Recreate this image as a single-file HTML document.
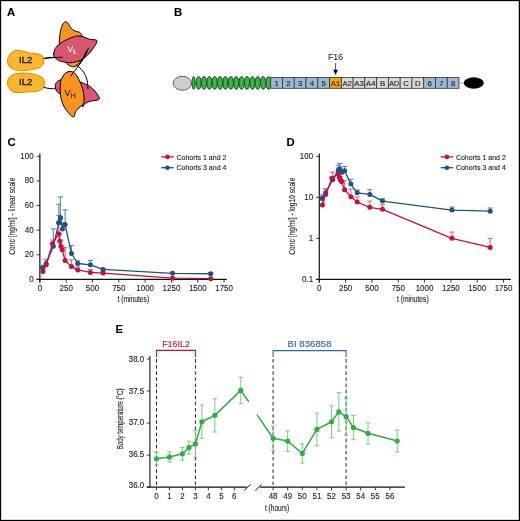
<!DOCTYPE html>
<html><head><meta charset="utf-8"><style>
html,body{margin:0;padding:0;background:#fff;width:520px;height:521px;overflow:hidden;}
svg{display:block;font-family:"Liberation Sans",sans-serif;will-change:transform;}
</style></head><body>
<svg width="520" height="521" viewBox="0 0 520 521">
<rect x="0" y="0" width="520" height="1.15" fill="#000"/>
<rect x="0" y="0" width="1.15" height="521" fill="#000"/>
<rect x="518.75" y="0" width="1.25" height="521" fill="#000"/>
<rect x="0" y="519.85" width="520" height="1.15" fill="#000"/>
<text x="7.1" y="15.6" font-family="Liberation Sans, sans-serif" font-weight="bold" font-size="11.3" fill="#000" stroke="#000" stroke-width="0.12">A</text>
<text x="174.1" y="15.6" font-family="Liberation Sans, sans-serif" font-weight="bold" font-size="11.3" fill="#000" stroke="#000" stroke-width="0.12">B</text>
<text x="7.5" y="146.4" font-family="Liberation Sans, sans-serif" font-weight="bold" font-size="11.3" fill="#000" stroke="#000" stroke-width="0.12">C</text>
<text x="286.6" y="146.3" font-family="Liberation Sans, sans-serif" font-weight="bold" font-size="11.3" fill="#000" stroke="#000" stroke-width="0.12">D</text>
<text x="115.6" y="333.3" font-family="Liberation Sans, sans-serif" font-weight="bold" font-size="11.3" fill="#000" stroke="#000" stroke-width="0.12">E</text>
<g stroke="#000" stroke-width="1" stroke-linejoin="round" stroke-linecap="round">
<path d="M7.4,60.8 C7.6,56.5 11,51.5 16,50.4 C20,49.6 24,51.5 28.5,52.8 C33,54 38.5,53.4 41.8,55.6 C44.6,57.6 44.4,62 42.4,65.3 C40,68.8 34,69.6 28,70.2 C21,70.9 14,70.6 10.6,67.6 C8.6,65.8 7.3,63.2 7.4,60.8 Z" fill="#f9b82e" stroke="#f08d00" stroke-width="1.1"/>
<path d="M7.4,82 C7.8,78.5 11,75 16,73.8 C21,72.8 27,73 32,73.8 C37,74.6 41.5,75.8 43.6,79.2 C45.4,82.2 44.8,87 41.8,89.4 C38.4,92 32.5,91.6 26.5,92 C20.5,92.5 15.5,93.5 12,91 C9.4,89 7.2,85.5 7.4,82 Z" fill="#f9b82e" stroke="#f08d00" stroke-width="1.1"/>
<path d="M44,58.4 C48,57.4 52,57.2 57,57.4" fill="none"/>
<path d="M44,87.3 C48,88.8 52,88.9 57,88.6" fill="none"/>
<path d="M61,79.8 C58.5,80.2 56.3,81.8 55.4,84.5 C54.8,87.5 55.8,90.5 58,92.6 C59,93.4 60,93.8 61,94 Z" fill="#d9566e"/>
<path d="M79.4,81.9 C82,82.6 84.5,83.6 86.9,84.8 C89,86 91,87.3 92.6,88.8 C94.2,90.3 95.6,91.8 96.7,93.4 C97.8,95 99,96.8 99.5,98.4 C99.6,99.3 98.8,99.9 96.1,100.3 C93.8,100.6 91.5,100.8 89.2,101.5 C87.5,102.1 86,103 84.6,104.4 C83.8,105.2 83.2,106 82.8,106.7 Z" fill="#d9566e"/>
<path d="M69,71.5 C66.5,72 64.8,73.3 63.8,75 C61.8,77.8 60.6,80 60.4,83 C60,87 60,91 60.4,94.6 C61,99 62,102.8 63.8,106.1 C65.5,109.3 67.6,112 69.6,114.1 C71,115.5 72.5,117 73.6,117 C74.4,116.8 74.5,115.5 74.8,114.1 C75.3,112 76,110.8 77.1,109.5 C78.3,108.2 79.8,107.2 81.1,106.1 C82.8,104.7 83.9,103.3 84,101.5 C84.2,98.5 84,95.5 83.4,92.3 C82.7,88.6 81.6,85 80,81.9 C78.5,78.5 76.8,75.2 74.8,73.2 C73,71.6 71,71.2 69,71.5 Z" fill="#f7941d"/>
<path d="M59.3,44.6 C59.3,38 60.2,30 62,26 C63,23.5 64.5,21.6 65.8,21.7 C67.3,21.8 68.6,24 70,26.5 C71.5,29 73.5,30.7 76,31.3 C78.5,31.8 80.5,32.2 81.5,34.6 L83,40 L82,58 C80.8,61 79,64.5 75,66.5 C72,67.8 68,65 66.2,63 Z" fill="#f7941d"/>
<path d="M53.6,54 C54,50 56,46.5 58.8,44.6 C61,42.8 63.5,41 66.2,39.9 C69,38.6 72.5,37 75.7,36.2 C78.5,35.6 81,36.2 83.1,36.7 C85.5,37.4 87.5,38.8 89.4,39.3 C91.5,39.8 94.5,39.5 96.2,40 C97.4,40.5 97.3,41.5 96.5,43 C95.5,45 93,48.5 90.5,52 C88.5,54.5 86.5,56 85.2,57.3 C82.5,59.3 80,60.8 76.7,61.6 C74,62.4 71,62.9 68.3,62.6 C65,62.3 61.5,61.8 58.8,60.5 C56,59 53.4,57 53.6,54 Z" fill="#d9566e"/>
<path d="M45,58.4 C52,57.6 58,57.3 62.5,57.3" fill="none"/>
<path d="M70.9,75.9 C74,71.5 78,66.5 81,62.5 C84,58.5 86.5,53.5 88.4,48.3" fill="none"/>
<path d="M76.5,65 C80,67.5 83.5,71 85.5,75.5 C87.5,80 88,84.5 87.9,88.6" fill="none"/>
<path d="M86.8,50.5 C84.5,56 81.5,61 79,65" fill="none"/>
</g>
<text x="19.0" y="63.0" font-family="Liberation Sans, sans-serif" font-size="9.6" fill="#111" stroke="#111" stroke-width="0.3">IL2</text>
<text x="19.0" y="84.7" font-family="Liberation Sans, sans-serif" font-size="9.6" fill="#111" stroke="#111" stroke-width="0.3">IL2</text>
<text x="67.3" y="51.6" font-family="Liberation Sans, sans-serif" font-size="9" fill="#fff" stroke="#fff" stroke-width="0.12">V<tspan font-size="6.5" dy="2">L</tspan></text>
<text x="64.6" y="95.7" font-family="Liberation Sans, sans-serif" font-size="9.2" fill="#222" stroke="#222" stroke-width="0.12">V<tspan font-size="6.8" dy="2.3">H</tspan></text>
<ellipse cx="182.3" cy="83.3" rx="9.1" ry="7" fill="#cdcdcd" stroke="#444" stroke-width="0.8"/>
<ellipse cx="193.6" cy="82.9" rx="1.6" ry="6.4" fill="#3bb54a" stroke="#0a2a0e" stroke-width="0.8"/>
<ellipse cx="198.60" cy="82.9" rx="2.6" ry="6.4" fill="#3bb54a" stroke="#0a2a0e" stroke-width="0.8"/>
<ellipse cx="203.98" cy="82.9" rx="2.6" ry="6.4" fill="#3bb54a" stroke="#0a2a0e" stroke-width="0.8"/>
<ellipse cx="209.36" cy="82.9" rx="2.6" ry="6.4" fill="#3bb54a" stroke="#0a2a0e" stroke-width="0.8"/>
<ellipse cx="214.74" cy="82.9" rx="2.6" ry="6.4" fill="#3bb54a" stroke="#0a2a0e" stroke-width="0.8"/>
<ellipse cx="220.12" cy="82.9" rx="2.6" ry="6.4" fill="#3bb54a" stroke="#0a2a0e" stroke-width="0.8"/>
<ellipse cx="225.50" cy="82.9" rx="2.6" ry="6.4" fill="#3bb54a" stroke="#0a2a0e" stroke-width="0.8"/>
<ellipse cx="230.88" cy="82.9" rx="2.6" ry="6.4" fill="#3bb54a" stroke="#0a2a0e" stroke-width="0.8"/>
<ellipse cx="236.26" cy="82.9" rx="2.6" ry="6.4" fill="#3bb54a" stroke="#0a2a0e" stroke-width="0.8"/>
<ellipse cx="241.64" cy="82.9" rx="2.6" ry="6.4" fill="#3bb54a" stroke="#0a2a0e" stroke-width="0.8"/>
<ellipse cx="247.02" cy="82.9" rx="2.6" ry="6.4" fill="#3bb54a" stroke="#0a2a0e" stroke-width="0.8"/>
<ellipse cx="252.40" cy="82.9" rx="2.6" ry="6.4" fill="#3bb54a" stroke="#0a2a0e" stroke-width="0.8"/>
<ellipse cx="257.78" cy="82.9" rx="2.6" ry="6.4" fill="#3bb54a" stroke="#0a2a0e" stroke-width="0.8"/>
<ellipse cx="263.16" cy="82.9" rx="2.6" ry="6.4" fill="#3bb54a" stroke="#0a2a0e" stroke-width="0.8"/>
<ellipse cx="268.54" cy="82.9" rx="2.6" ry="6.4" fill="#3bb54a" stroke="#0a2a0e" stroke-width="0.8"/>
<rect x="270.70" y="77.4" width="11.77" height="10.9" fill="#9cb8d3" stroke="#333" stroke-width="0.8"/>
<text x="276.58" y="85.8" text-anchor="middle" font-family="Liberation Sans, sans-serif" font-size="7.8" fill="#1a1a1a" stroke="#1a1a1a" stroke-width="0.12">1</text>
<rect x="282.47" y="77.4" width="11.77" height="10.9" fill="#9cb8d3" stroke="#333" stroke-width="0.8"/>
<text x="288.35" y="85.8" text-anchor="middle" font-family="Liberation Sans, sans-serif" font-size="7.8" fill="#1a1a1a" stroke="#1a1a1a" stroke-width="0.12">2</text>
<rect x="294.24" y="77.4" width="11.77" height="10.9" fill="#9cb8d3" stroke="#333" stroke-width="0.8"/>
<text x="300.12" y="85.8" text-anchor="middle" font-family="Liberation Sans, sans-serif" font-size="7.8" fill="#1a1a1a" stroke="#1a1a1a" stroke-width="0.12">3</text>
<rect x="306.01" y="77.4" width="11.77" height="10.9" fill="#9cb8d3" stroke="#333" stroke-width="0.8"/>
<text x="311.89" y="85.8" text-anchor="middle" font-family="Liberation Sans, sans-serif" font-size="7.8" fill="#1a1a1a" stroke="#1a1a1a" stroke-width="0.12">4</text>
<rect x="317.77" y="77.4" width="11.77" height="10.9" fill="#9cb8d3" stroke="#333" stroke-width="0.8"/>
<text x="323.66" y="85.8" text-anchor="middle" font-family="Liberation Sans, sans-serif" font-size="7.8" fill="#1a1a1a" stroke="#1a1a1a" stroke-width="0.12">5</text>
<rect x="329.54" y="77.4" width="11.77" height="10.9" fill="#f5ab00" stroke="#333" stroke-width="0.8"/>
<text x="335.43" y="85.8" text-anchor="middle" font-family="Liberation Sans, sans-serif" font-size="7.8" fill="#1a1a1a" stroke="#1a1a1a" stroke-width="0.12">A1</text>
<rect x="341.31" y="77.4" width="11.77" height="10.9" fill="#d9d9d9" stroke="#333" stroke-width="0.8"/>
<text x="347.20" y="85.8" text-anchor="middle" font-family="Liberation Sans, sans-serif" font-size="7.8" fill="#1a1a1a" stroke="#1a1a1a" stroke-width="0.12">A2</text>
<rect x="353.08" y="77.4" width="11.77" height="10.9" fill="#d9d9d9" stroke="#333" stroke-width="0.8"/>
<text x="358.97" y="85.8" text-anchor="middle" font-family="Liberation Sans, sans-serif" font-size="7.8" fill="#1a1a1a" stroke="#1a1a1a" stroke-width="0.12">A3</text>
<rect x="364.85" y="77.4" width="11.77" height="10.9" fill="#d9d9d9" stroke="#333" stroke-width="0.8"/>
<text x="370.73" y="85.8" text-anchor="middle" font-family="Liberation Sans, sans-serif" font-size="7.8" fill="#1a1a1a" stroke="#1a1a1a" stroke-width="0.12">A4</text>
<rect x="376.62" y="77.4" width="11.77" height="10.9" fill="#d9d9d9" stroke="#333" stroke-width="0.8"/>
<text x="382.50" y="85.8" text-anchor="middle" font-family="Liberation Sans, sans-serif" font-size="7.8" fill="#1a1a1a" stroke="#1a1a1a" stroke-width="0.12">B</text>
<rect x="388.39" y="77.4" width="11.77" height="10.9" fill="#d9d9d9" stroke="#333" stroke-width="0.8"/>
<text x="394.27" y="85.8" text-anchor="middle" font-family="Liberation Sans, sans-serif" font-size="7.8" textLength="9.8" lengthAdjust="spacingAndGlyphs" fill="#1a1a1a" stroke="#1a1a1a" stroke-width="0.12">AD</text>
<rect x="400.16" y="77.4" width="11.77" height="10.9" fill="#d9d9d9" stroke="#333" stroke-width="0.8"/>
<text x="406.04" y="85.8" text-anchor="middle" font-family="Liberation Sans, sans-serif" font-size="7.8" fill="#1a1a1a" stroke="#1a1a1a" stroke-width="0.12">C</text>
<rect x="411.93" y="77.4" width="11.77" height="10.9" fill="#d9d9d9" stroke="#333" stroke-width="0.8"/>
<text x="417.81" y="85.8" text-anchor="middle" font-family="Liberation Sans, sans-serif" font-size="7.8" fill="#1a1a1a" stroke="#1a1a1a" stroke-width="0.12">D</text>
<rect x="423.69" y="77.4" width="11.77" height="10.9" fill="#9cb8d3" stroke="#333" stroke-width="0.8"/>
<text x="429.58" y="85.8" text-anchor="middle" font-family="Liberation Sans, sans-serif" font-size="7.8" fill="#1a1a1a" stroke="#1a1a1a" stroke-width="0.12">6</text>
<rect x="435.46" y="77.4" width="11.77" height="10.9" fill="#9cb8d3" stroke="#333" stroke-width="0.8"/>
<text x="441.35" y="85.8" text-anchor="middle" font-family="Liberation Sans, sans-serif" font-size="7.8" fill="#1a1a1a" stroke="#1a1a1a" stroke-width="0.12">7</text>
<rect x="447.23" y="77.4" width="11.77" height="10.9" fill="#9cb8d3" stroke="#333" stroke-width="0.8"/>
<text x="453.12" y="85.8" text-anchor="middle" font-family="Liberation Sans, sans-serif" font-size="7.8" fill="#1a1a1a" stroke="#1a1a1a" stroke-width="0.12">8</text>
<line x1="459" y1="83.1" x2="464" y2="83.1" stroke="#666" stroke-width="0.6"/>
<ellipse cx="473.8" cy="83" rx="10" ry="5.8" fill="#000"/>
<text x="335.6" y="59.9" text-anchor="middle" font-family="Liberation Sans, sans-serif" font-size="9.3" textLength="15.3" lengthAdjust="spacingAndGlyphs" fill="#222" stroke="#222" stroke-width="0.05">F16</text>
<line x1="335.6" y1="63" x2="335.6" y2="71" stroke="#222" stroke-width="0.8"/>
<path d="M333.3,69.8 L337.9,69.8 L335.6,75.1 Z" fill="#000"/>
<line x1="39.85" y1="153.5" x2="39.85" y2="282.6" stroke="#222" stroke-width="1.3"/>
<line x1="36.65" y1="279.4" x2="226.85" y2="279.4" stroke="#111" stroke-width="1.1"/>
<line x1="36.65" y1="279.40" x2="39.85" y2="279.40" stroke="#222" stroke-width="0.9"/>
<text x="33.65" y="281.90" text-anchor="end" font-family="Liberation Sans, sans-serif" font-size="8.8" textLength="4.45" lengthAdjust="spacingAndGlyphs" fill="#222" stroke="#222" stroke-width="0.12">0</text>
<line x1="36.65" y1="254.78" x2="39.85" y2="254.78" stroke="#222" stroke-width="0.9"/>
<text x="33.65" y="257.28" text-anchor="end" font-family="Liberation Sans, sans-serif" font-size="8.8" textLength="8.90" lengthAdjust="spacingAndGlyphs" fill="#222" stroke="#222" stroke-width="0.12">20</text>
<line x1="36.65" y1="230.16" x2="39.85" y2="230.16" stroke="#222" stroke-width="0.9"/>
<text x="33.65" y="232.66" text-anchor="end" font-family="Liberation Sans, sans-serif" font-size="8.8" textLength="8.90" lengthAdjust="spacingAndGlyphs" fill="#222" stroke="#222" stroke-width="0.12">40</text>
<line x1="36.65" y1="205.54" x2="39.85" y2="205.54" stroke="#222" stroke-width="0.9"/>
<text x="33.65" y="208.04" text-anchor="end" font-family="Liberation Sans, sans-serif" font-size="8.8" textLength="8.90" lengthAdjust="spacingAndGlyphs" fill="#222" stroke="#222" stroke-width="0.12">60</text>
<line x1="36.65" y1="180.92" x2="39.85" y2="180.92" stroke="#222" stroke-width="0.9"/>
<text x="33.65" y="183.42" text-anchor="end" font-family="Liberation Sans, sans-serif" font-size="8.8" textLength="8.90" lengthAdjust="spacingAndGlyphs" fill="#222" stroke="#222" stroke-width="0.12">80</text>
<line x1="36.65" y1="156.30" x2="39.85" y2="156.30" stroke="#222" stroke-width="0.9"/>
<text x="33.65" y="158.80" text-anchor="end" font-family="Liberation Sans, sans-serif" font-size="8.8" textLength="13.34" lengthAdjust="spacingAndGlyphs" fill="#222" stroke="#222" stroke-width="0.12">100</text>
<line x1="39.85" y1="279.4" x2="39.85" y2="282.6" stroke="#222" stroke-width="0.9"/>
<text x="39.85" y="291.3" text-anchor="middle" font-family="Liberation Sans, sans-serif" font-size="8.8" textLength="4.45" lengthAdjust="spacingAndGlyphs" fill="#222" stroke="#222" stroke-width="0.12">0</text>
<line x1="66.17" y1="279.4" x2="66.17" y2="282.6" stroke="#222" stroke-width="0.9"/>
<text x="66.17" y="291.3" text-anchor="middle" font-family="Liberation Sans, sans-serif" font-size="8.8" textLength="13.34" lengthAdjust="spacingAndGlyphs" fill="#222" stroke="#222" stroke-width="0.12">250</text>
<line x1="92.49" y1="279.4" x2="92.49" y2="282.6" stroke="#222" stroke-width="0.9"/>
<text x="92.49" y="291.3" text-anchor="middle" font-family="Liberation Sans, sans-serif" font-size="8.8" textLength="13.34" lengthAdjust="spacingAndGlyphs" fill="#222" stroke="#222" stroke-width="0.12">500</text>
<line x1="118.81" y1="279.4" x2="118.81" y2="282.6" stroke="#222" stroke-width="0.9"/>
<text x="118.81" y="291.3" text-anchor="middle" font-family="Liberation Sans, sans-serif" font-size="8.8" textLength="13.34" lengthAdjust="spacingAndGlyphs" fill="#222" stroke="#222" stroke-width="0.12">750</text>
<line x1="145.13" y1="279.4" x2="145.13" y2="282.6" stroke="#222" stroke-width="0.9"/>
<text x="145.13" y="291.3" text-anchor="middle" font-family="Liberation Sans, sans-serif" font-size="8.8" textLength="17.79" lengthAdjust="spacingAndGlyphs" fill="#222" stroke="#222" stroke-width="0.12">1000</text>
<line x1="171.45" y1="279.4" x2="171.45" y2="282.6" stroke="#222" stroke-width="0.9"/>
<text x="171.45" y="291.3" text-anchor="middle" font-family="Liberation Sans, sans-serif" font-size="8.8" textLength="17.79" lengthAdjust="spacingAndGlyphs" fill="#222" stroke="#222" stroke-width="0.12">1250</text>
<line x1="197.77" y1="279.4" x2="197.77" y2="282.6" stroke="#222" stroke-width="0.9"/>
<text x="197.77" y="291.3" text-anchor="middle" font-family="Liberation Sans, sans-serif" font-size="8.8" textLength="17.79" lengthAdjust="spacingAndGlyphs" fill="#222" stroke="#222" stroke-width="0.12">1500</text>
<line x1="224.09" y1="279.4" x2="224.09" y2="282.6" stroke="#222" stroke-width="0.9"/>
<text x="224.09" y="291.3" text-anchor="middle" font-family="Liberation Sans, sans-serif" font-size="8.8" textLength="17.79" lengthAdjust="spacingAndGlyphs" fill="#222" stroke="#222" stroke-width="0.12">1750</text>
<text x="133.35" y="302.3" text-anchor="middle" font-family="Liberation Sans, sans-serif" font-size="8.6" textLength="31.7" lengthAdjust="spacingAndGlyphs" fill="#222" stroke="#222" stroke-width="0.12">t (minutes)</text>
<text x="15.45" y="216.20" transform="rotate(-90 15.45 216.20)" text-anchor="middle" font-family="Liberation Sans, sans-serif" font-size="8.9" textLength="77" lengthAdjust="spacingAndGlyphs" fill="#222" stroke="#222" stroke-width="0.12">Conc [ng/ml] - linear scale</text>
<line x1="42.48" y1="267.71" x2="42.48" y2="265.24" stroke="#5a86b6" stroke-width="1.1"/>
<line x1="39.88" y1="265.24" x2="45.08" y2="265.24" stroke="#5a86b6" stroke-width="1.1"/>
<line x1="46.17" y1="263.40" x2="46.17" y2="259.70" stroke="#5a86b6" stroke-width="1.1"/>
<line x1="43.57" y1="259.70" x2="48.77" y2="259.70" stroke="#5a86b6" stroke-width="1.1"/>
<line x1="53.33" y1="246.16" x2="53.33" y2="228.93" stroke="#5a86b6" stroke-width="1.1"/>
<line x1="50.73" y1="228.93" x2="55.93" y2="228.93" stroke="#5a86b6" stroke-width="1.1"/>
<line x1="58.80" y1="222.77" x2="58.80" y2="204.31" stroke="#5a86b6" stroke-width="1.1"/>
<line x1="56.20" y1="204.31" x2="61.40" y2="204.31" stroke="#5a86b6" stroke-width="1.1"/>
<line x1="60.38" y1="217.85" x2="60.38" y2="196.92" stroke="#5a86b6" stroke-width="1.1"/>
<line x1="57.78" y1="196.92" x2="62.98" y2="196.92" stroke="#5a86b6" stroke-width="1.1"/>
<line x1="62.49" y1="228.93" x2="62.49" y2="222.77" stroke="#5a86b6" stroke-width="1.1"/>
<line x1="59.89" y1="222.77" x2="65.09" y2="222.77" stroke="#5a86b6" stroke-width="1.1"/>
<line x1="65.12" y1="224.62" x2="65.12" y2="209.85" stroke="#5a86b6" stroke-width="1.1"/>
<line x1="62.52" y1="209.85" x2="67.72" y2="209.85" stroke="#5a86b6" stroke-width="1.1"/>
<line x1="71.43" y1="253.55" x2="71.43" y2="245.55" stroke="#5a86b6" stroke-width="1.1"/>
<line x1="68.83" y1="245.55" x2="74.03" y2="245.55" stroke="#5a86b6" stroke-width="1.1"/>
<line x1="77.75" y1="263.52" x2="77.75" y2="260.81" stroke="#5a86b6" stroke-width="1.1"/>
<line x1="75.15" y1="260.81" x2="80.35" y2="260.81" stroke="#5a86b6" stroke-width="1.1"/>
<line x1="90.38" y1="264.87" x2="90.38" y2="260.44" stroke="#5a86b6" stroke-width="1.1"/>
<line x1="87.78" y1="260.44" x2="92.98" y2="260.44" stroke="#5a86b6" stroke-width="1.1"/>
<line x1="103.02" y1="269.43" x2="103.02" y2="268.07" stroke="#5a86b6" stroke-width="1.1"/>
<line x1="100.42" y1="268.07" x2="105.62" y2="268.07" stroke="#5a86b6" stroke-width="1.1"/>
<line x1="172.50" y1="273.37" x2="172.50" y2="272.26" stroke="#5a86b6" stroke-width="1.1"/>
<line x1="169.90" y1="272.26" x2="175.10" y2="272.26" stroke="#5a86b6" stroke-width="1.1"/>
<line x1="210.72" y1="273.74" x2="210.72" y2="272.63" stroke="#5a86b6" stroke-width="1.1"/>
<line x1="208.12" y1="272.63" x2="213.32" y2="272.63" stroke="#5a86b6" stroke-width="1.1"/>
<line x1="43.01" y1="271.40" x2="43.01" y2="268.94" stroke="#df6a84" stroke-width="1.1"/>
<line x1="40.41" y1="268.94" x2="45.61" y2="268.94" stroke="#df6a84" stroke-width="1.1"/>
<line x1="46.17" y1="264.87" x2="46.17" y2="259.46" stroke="#df6a84" stroke-width="1.1"/>
<line x1="43.57" y1="259.46" x2="48.77" y2="259.46" stroke="#df6a84" stroke-width="1.1"/>
<line x1="52.48" y1="243.70" x2="52.48" y2="240.01" stroke="#df6a84" stroke-width="1.1"/>
<line x1="49.88" y1="240.01" x2="55.08" y2="240.01" stroke="#df6a84" stroke-width="1.1"/>
<line x1="58.80" y1="233.85" x2="58.80" y2="215.39" stroke="#df6a84" stroke-width="1.1"/>
<line x1="56.20" y1="215.39" x2="61.40" y2="215.39" stroke="#df6a84" stroke-width="1.1"/>
<line x1="59.85" y1="241.24" x2="59.85" y2="233.85" stroke="#df6a84" stroke-width="1.1"/>
<line x1="57.25" y1="233.85" x2="62.45" y2="233.85" stroke="#df6a84" stroke-width="1.1"/>
<line x1="60.91" y1="246.16" x2="60.91" y2="240.01" stroke="#df6a84" stroke-width="1.1"/>
<line x1="58.31" y1="240.01" x2="63.51" y2="240.01" stroke="#df6a84" stroke-width="1.1"/>
<line x1="62.17" y1="249.86" x2="62.17" y2="246.16" stroke="#df6a84" stroke-width="1.1"/>
<line x1="59.57" y1="246.16" x2="64.77" y2="246.16" stroke="#df6a84" stroke-width="1.1"/>
<line x1="65.12" y1="260.57" x2="65.12" y2="247.64" stroke="#df6a84" stroke-width="1.1"/>
<line x1="62.52" y1="247.64" x2="67.72" y2="247.64" stroke="#df6a84" stroke-width="1.1"/>
<line x1="71.43" y1="266.60" x2="71.43" y2="259.83" stroke="#df6a84" stroke-width="1.1"/>
<line x1="68.83" y1="259.83" x2="74.03" y2="259.83" stroke="#df6a84" stroke-width="1.1"/>
<line x1="77.75" y1="269.92" x2="77.75" y2="266.84" stroke="#df6a84" stroke-width="1.1"/>
<line x1="75.15" y1="266.84" x2="80.35" y2="266.84" stroke="#df6a84" stroke-width="1.1"/>
<line x1="90.38" y1="272.38" x2="90.38" y2="269.43" stroke="#df6a84" stroke-width="1.1"/>
<line x1="87.78" y1="269.43" x2="92.98" y2="269.43" stroke="#df6a84" stroke-width="1.1"/>
<line x1="103.02" y1="273.12" x2="103.02" y2="271.28" stroke="#df6a84" stroke-width="1.1"/>
<line x1="100.42" y1="271.28" x2="105.62" y2="271.28" stroke="#df6a84" stroke-width="1.1"/>
<line x1="172.50" y1="278.17" x2="172.50" y2="277.65" stroke="#df6a84" stroke-width="1.1"/>
<line x1="169.90" y1="277.65" x2="175.10" y2="277.65" stroke="#df6a84" stroke-width="1.1"/>
<line x1="210.72" y1="278.66" x2="210.72" y2="278.17" stroke="#df6a84" stroke-width="1.1"/>
<line x1="208.12" y1="278.17" x2="213.32" y2="278.17" stroke="#df6a84" stroke-width="1.1"/>
<path d="M42.48,267.71 L46.17,263.40 L53.33,246.16 L58.80,222.77 L60.38,217.85 L62.49,228.93 L65.12,224.62 L71.43,253.55 L77.75,263.52 L90.38,264.87 L103.02,269.43 L172.50,273.37 L210.72,273.74" fill="none" stroke="#1b5288" stroke-width="1.3" stroke-linejoin="round"/>
<circle cx="42.48" cy="267.71" r="2.5" fill="#1b5288"/>
<circle cx="46.17" cy="263.40" r="2.5" fill="#1b5288"/>
<circle cx="53.33" cy="246.16" r="2.5" fill="#1b5288"/>
<circle cx="58.80" cy="222.77" r="2.5" fill="#1b5288"/>
<circle cx="60.38" cy="217.85" r="2.5" fill="#1b5288"/>
<circle cx="62.49" cy="228.93" r="2.5" fill="#1b5288"/>
<circle cx="65.12" cy="224.62" r="2.5" fill="#1b5288"/>
<circle cx="71.43" cy="253.55" r="2.5" fill="#1b5288"/>
<circle cx="77.75" cy="263.52" r="2.5" fill="#1b5288"/>
<circle cx="90.38" cy="264.87" r="2.5" fill="#1b5288"/>
<circle cx="103.02" cy="269.43" r="2.5" fill="#1b5288"/>
<circle cx="172.50" cy="273.37" r="2.5" fill="#1b5288"/>
<circle cx="210.72" cy="273.74" r="2.5" fill="#1b5288"/>
<path d="M43.01,271.40 L46.17,264.87 L52.48,243.70 L58.80,233.85 L59.85,241.24 L60.91,246.16 L62.17,249.86 L65.12,260.57 L71.43,266.60 L77.75,269.92 L90.38,272.38 L103.02,273.12 L172.50,278.17 L210.72,278.66" fill="none" stroke="#c90f36" stroke-width="1.3" stroke-linejoin="round"/>
<circle cx="43.01" cy="271.40" r="2.5" fill="#c90f36"/>
<circle cx="46.17" cy="264.87" r="2.5" fill="#c90f36"/>
<circle cx="52.48" cy="243.70" r="2.5" fill="#c90f36"/>
<circle cx="58.80" cy="233.85" r="2.5" fill="#c90f36"/>
<circle cx="59.85" cy="241.24" r="2.5" fill="#c90f36"/>
<circle cx="60.91" cy="246.16" r="2.5" fill="#c90f36"/>
<circle cx="62.17" cy="249.86" r="2.5" fill="#c90f36"/>
<circle cx="65.12" cy="260.57" r="2.5" fill="#c90f36"/>
<circle cx="71.43" cy="266.60" r="2.5" fill="#c90f36"/>
<circle cx="77.75" cy="269.92" r="2.5" fill="#c90f36"/>
<circle cx="90.38" cy="272.38" r="2.5" fill="#c90f36"/>
<circle cx="103.02" cy="273.12" r="2.5" fill="#c90f36"/>
<circle cx="172.50" cy="278.17" r="2.5" fill="#c90f36"/>
<circle cx="210.72" cy="278.66" r="2.5" fill="#c90f36"/>
<circle cx="58.80" cy="222.77" r="2.5" fill="#1b5288"/>
<circle cx="60.38" cy="217.85" r="2.5" fill="#1b5288"/>
<line x1="161.15" y1="156.9" x2="173.75" y2="156.9" stroke="#c90f36" stroke-width="1.3"/>
<circle cx="167.45" cy="156.9" r="2.3" fill="#c90f36"/>
<text x="176.45" y="159.50" font-family="Liberation Sans, sans-serif" font-size="7.3" textLength="50" lengthAdjust="spacingAndGlyphs" fill="#222" stroke="#222" stroke-width="0.12">Cohorts 1 and 2</text>
<line x1="161.15" y1="167.70000000000002" x2="173.75" y2="167.70000000000002" stroke="#1b5288" stroke-width="1.3"/>
<circle cx="167.45" cy="167.70000000000002" r="2.3" fill="#1b5288"/>
<text x="176.45" y="170.30" font-family="Liberation Sans, sans-serif" font-size="7.3" textLength="50" lengthAdjust="spacingAndGlyphs" fill="#222" stroke="#222" stroke-width="0.12">Cohorts 3 and 4</text>
<line x1="319.3" y1="153.5" x2="319.3" y2="282.6" stroke="#222" stroke-width="1.3"/>
<line x1="316.1" y1="279.4" x2="510.9" y2="279.4" stroke="#111" stroke-width="1.1"/>
<line x1="316.1" y1="279.40" x2="319.3" y2="279.40" stroke="#222" stroke-width="0.9"/>
<text x="313.10" y="281.90" text-anchor="end" font-family="Liberation Sans, sans-serif" font-size="8.8" textLength="11.12" lengthAdjust="spacingAndGlyphs" fill="#222" stroke="#222" stroke-width="0.12">0.1</text>
<line x1="316.1" y1="238.37" x2="319.3" y2="238.37" stroke="#222" stroke-width="0.9"/>
<text x="313.10" y="240.87" text-anchor="end" font-family="Liberation Sans, sans-serif" font-size="8.8" textLength="4.45" lengthAdjust="spacingAndGlyphs" fill="#222" stroke="#222" stroke-width="0.12">1</text>
<line x1="316.1" y1="197.34" x2="319.3" y2="197.34" stroke="#222" stroke-width="0.9"/>
<text x="313.10" y="199.84" text-anchor="end" font-family="Liberation Sans, sans-serif" font-size="8.8" textLength="8.90" lengthAdjust="spacingAndGlyphs" fill="#222" stroke="#222" stroke-width="0.12">10</text>
<line x1="316.1" y1="156.31" x2="319.3" y2="156.31" stroke="#222" stroke-width="0.9"/>
<text x="313.10" y="158.81" text-anchor="end" font-family="Liberation Sans, sans-serif" font-size="8.8" textLength="13.34" lengthAdjust="spacingAndGlyphs" fill="#222" stroke="#222" stroke-width="0.12">100</text>
<line x1="319.30" y1="279.4" x2="319.30" y2="282.6" stroke="#222" stroke-width="0.9"/>
<text x="319.30" y="291.3" text-anchor="middle" font-family="Liberation Sans, sans-serif" font-size="8.8" textLength="4.45" lengthAdjust="spacingAndGlyphs" fill="#222" stroke="#222" stroke-width="0.12">0</text>
<line x1="345.62" y1="279.4" x2="345.62" y2="282.6" stroke="#222" stroke-width="0.9"/>
<text x="345.62" y="291.3" text-anchor="middle" font-family="Liberation Sans, sans-serif" font-size="8.8" textLength="13.34" lengthAdjust="spacingAndGlyphs" fill="#222" stroke="#222" stroke-width="0.12">250</text>
<line x1="371.94" y1="279.4" x2="371.94" y2="282.6" stroke="#222" stroke-width="0.9"/>
<text x="371.94" y="291.3" text-anchor="middle" font-family="Liberation Sans, sans-serif" font-size="8.8" textLength="13.34" lengthAdjust="spacingAndGlyphs" fill="#222" stroke="#222" stroke-width="0.12">500</text>
<line x1="398.26" y1="279.4" x2="398.26" y2="282.6" stroke="#222" stroke-width="0.9"/>
<text x="398.26" y="291.3" text-anchor="middle" font-family="Liberation Sans, sans-serif" font-size="8.8" textLength="13.34" lengthAdjust="spacingAndGlyphs" fill="#222" stroke="#222" stroke-width="0.12">750</text>
<line x1="424.58" y1="279.4" x2="424.58" y2="282.6" stroke="#222" stroke-width="0.9"/>
<text x="424.58" y="291.3" text-anchor="middle" font-family="Liberation Sans, sans-serif" font-size="8.8" textLength="17.79" lengthAdjust="spacingAndGlyphs" fill="#222" stroke="#222" stroke-width="0.12">1000</text>
<line x1="450.90" y1="279.4" x2="450.90" y2="282.6" stroke="#222" stroke-width="0.9"/>
<text x="450.90" y="291.3" text-anchor="middle" font-family="Liberation Sans, sans-serif" font-size="8.8" textLength="17.79" lengthAdjust="spacingAndGlyphs" fill="#222" stroke="#222" stroke-width="0.12">1250</text>
<line x1="477.22" y1="279.4" x2="477.22" y2="282.6" stroke="#222" stroke-width="0.9"/>
<text x="477.22" y="291.3" text-anchor="middle" font-family="Liberation Sans, sans-serif" font-size="8.8" textLength="17.79" lengthAdjust="spacingAndGlyphs" fill="#222" stroke="#222" stroke-width="0.12">1500</text>
<line x1="503.54" y1="279.4" x2="503.54" y2="282.6" stroke="#222" stroke-width="0.9"/>
<text x="503.54" y="291.3" text-anchor="middle" font-family="Liberation Sans, sans-serif" font-size="8.8" textLength="17.79" lengthAdjust="spacingAndGlyphs" fill="#222" stroke="#222" stroke-width="0.12">1750</text>
<text x="412.80" y="302.3" text-anchor="middle" font-family="Liberation Sans, sans-serif" font-size="8.6" textLength="31.7" lengthAdjust="spacingAndGlyphs" fill="#222" stroke="#222" stroke-width="0.12">t (minutes)</text>
<text x="294.90" y="216.20" transform="rotate(-90 294.90 216.20)" text-anchor="middle" font-family="Liberation Sans, sans-serif" font-size="8.9" textLength="77" lengthAdjust="spacingAndGlyphs" fill="#222" stroke="#222" stroke-width="0.12">Conc [ng/ml] - log10 scale</text>
<line x1="321.93" y1="198.25" x2="321.93" y2="194.85" stroke="#5a86b6" stroke-width="1.1"/>
<line x1="319.33" y1="194.85" x2="324.53" y2="194.85" stroke="#5a86b6" stroke-width="1.1"/>
<line x1="325.62" y1="192.66" x2="325.62" y2="188.96" stroke="#5a86b6" stroke-width="1.1"/>
<line x1="323.02" y1="188.96" x2="328.22" y2="188.96" stroke="#5a86b6" stroke-width="1.1"/>
<line x1="332.78" y1="179.64" x2="332.78" y2="172.20" stroke="#5a86b6" stroke-width="1.1"/>
<line x1="330.18" y1="172.20" x2="335.38" y2="172.20" stroke="#5a86b6" stroke-width="1.1"/>
<line x1="338.25" y1="170.15" x2="338.25" y2="165.12" stroke="#5a86b6" stroke-width="1.1"/>
<line x1="335.65" y1="165.12" x2="340.85" y2="165.12" stroke="#5a86b6" stroke-width="1.1"/>
<line x1="339.83" y1="168.66" x2="339.83" y2="163.45" stroke="#5a86b6" stroke-width="1.1"/>
<line x1="337.23" y1="163.45" x2="342.43" y2="163.45" stroke="#5a86b6" stroke-width="1.1"/>
<line x1="341.94" y1="172.20" x2="341.94" y2="170.15" stroke="#5a86b6" stroke-width="1.1"/>
<line x1="339.34" y1="170.15" x2="344.54" y2="170.15" stroke="#5a86b6" stroke-width="1.1"/>
<line x1="344.57" y1="170.74" x2="344.57" y2="166.48" stroke="#5a86b6" stroke-width="1.1"/>
<line x1="341.97" y1="166.48" x2="347.17" y2="166.48" stroke="#5a86b6" stroke-width="1.1"/>
<line x1="350.88" y1="184.12" x2="350.88" y2="179.31" stroke="#5a86b6" stroke-width="1.1"/>
<line x1="348.28" y1="179.31" x2="353.48" y2="179.31" stroke="#5a86b6" stroke-width="1.1"/>
<line x1="357.20" y1="192.80" x2="357.20" y2="190.00" stroke="#5a86b6" stroke-width="1.1"/>
<line x1="354.60" y1="190.00" x2="359.80" y2="190.00" stroke="#5a86b6" stroke-width="1.1"/>
<line x1="369.83" y1="194.39" x2="369.83" y2="189.65" stroke="#5a86b6" stroke-width="1.1"/>
<line x1="367.23" y1="189.65" x2="372.43" y2="189.65" stroke="#5a86b6" stroke-width="1.1"/>
<line x1="382.47" y1="201.09" x2="382.47" y2="198.83" stroke="#5a86b6" stroke-width="1.1"/>
<line x1="379.87" y1="198.83" x2="385.07" y2="198.83" stroke="#5a86b6" stroke-width="1.1"/>
<line x1="451.95" y1="210.05" x2="451.95" y2="207.05" stroke="#5a86b6" stroke-width="1.1"/>
<line x1="449.35" y1="207.05" x2="454.55" y2="207.05" stroke="#5a86b6" stroke-width="1.1"/>
<line x1="490.17" y1="211.18" x2="490.17" y2="207.99" stroke="#5a86b6" stroke-width="1.1"/>
<line x1="487.57" y1="207.99" x2="492.77" y2="207.99" stroke="#5a86b6" stroke-width="1.1"/>
<line x1="322.46" y1="205.02" x2="322.46" y2="200.24" stroke="#df6a84" stroke-width="1.1"/>
<line x1="319.86" y1="200.24" x2="325.06" y2="200.24" stroke="#df6a84" stroke-width="1.1"/>
<line x1="325.62" y1="194.39" x2="325.62" y2="188.74" stroke="#df6a84" stroke-width="1.1"/>
<line x1="323.02" y1="188.74" x2="328.22" y2="188.74" stroke="#df6a84" stroke-width="1.1"/>
<line x1="331.93" y1="178.37" x2="331.93" y2="176.61" stroke="#df6a84" stroke-width="1.1"/>
<line x1="329.33" y1="176.61" x2="334.53" y2="176.61" stroke="#df6a84" stroke-width="1.1"/>
<line x1="338.25" y1="174.03" x2="338.25" y2="167.96" stroke="#df6a84" stroke-width="1.1"/>
<line x1="335.65" y1="167.96" x2="340.85" y2="167.96" stroke="#df6a84" stroke-width="1.1"/>
<line x1="339.30" y1="177.18" x2="339.30" y2="174.03" stroke="#df6a84" stroke-width="1.1"/>
<line x1="336.70" y1="174.03" x2="341.90" y2="174.03" stroke="#df6a84" stroke-width="1.1"/>
<line x1="340.36" y1="179.64" x2="340.36" y2="176.61" stroke="#df6a84" stroke-width="1.1"/>
<line x1="337.76" y1="176.61" x2="342.96" y2="176.61" stroke="#df6a84" stroke-width="1.1"/>
<line x1="341.62" y1="181.74" x2="341.62" y2="179.64" stroke="#df6a84" stroke-width="1.1"/>
<line x1="339.02" y1="179.64" x2="344.22" y2="179.64" stroke="#df6a84" stroke-width="1.1"/>
<line x1="344.57" y1="189.76" x2="344.57" y2="180.45" stroke="#df6a84" stroke-width="1.1"/>
<line x1="341.97" y1="180.45" x2="347.17" y2="180.45" stroke="#df6a84" stroke-width="1.1"/>
<line x1="350.88" y1="196.64" x2="350.88" y2="189.08" stroke="#df6a84" stroke-width="1.1"/>
<line x1="348.28" y1="189.08" x2="353.48" y2="189.08" stroke="#df6a84" stroke-width="1.1"/>
<line x1="357.20" y1="202.00" x2="357.20" y2="196.99" stroke="#df6a84" stroke-width="1.1"/>
<line x1="354.60" y1="196.99" x2="359.80" y2="196.99" stroke="#df6a84" stroke-width="1.1"/>
<line x1="369.83" y1="207.36" x2="369.83" y2="201.09" stroke="#df6a84" stroke-width="1.1"/>
<line x1="367.23" y1="201.09" x2="372.43" y2="201.09" stroke="#df6a84" stroke-width="1.1"/>
<line x1="382.47" y1="209.34" x2="382.47" y2="204.74" stroke="#df6a84" stroke-width="1.1"/>
<line x1="379.87" y1="204.74" x2="385.07" y2="204.74" stroke="#df6a84" stroke-width="1.1"/>
<line x1="451.95" y1="238.37" x2="451.95" y2="232.12" stroke="#df6a84" stroke-width="1.1"/>
<line x1="449.35" y1="232.12" x2="454.55" y2="232.12" stroke="#df6a84" stroke-width="1.1"/>
<line x1="490.17" y1="247.47" x2="490.17" y2="238.37" stroke="#df6a84" stroke-width="1.1"/>
<line x1="487.57" y1="238.37" x2="492.77" y2="238.37" stroke="#df6a84" stroke-width="1.1"/>
<path d="M321.93,198.25 L325.62,192.66 L332.78,179.64 L338.25,170.15 L339.83,168.66 L341.94,172.20 L344.57,170.74 L350.88,184.12 L357.20,192.80 L369.83,194.39 L382.47,201.09 L451.95,210.05 L490.17,211.18" fill="none" stroke="#1b5288" stroke-width="1.3" stroke-linejoin="round"/>
<circle cx="321.93" cy="198.25" r="2.5" fill="#1b5288"/>
<circle cx="325.62" cy="192.66" r="2.5" fill="#1b5288"/>
<circle cx="332.78" cy="179.64" r="2.5" fill="#1b5288"/>
<circle cx="338.25" cy="170.15" r="2.5" fill="#1b5288"/>
<circle cx="339.83" cy="168.66" r="2.5" fill="#1b5288"/>
<circle cx="341.94" cy="172.20" r="2.5" fill="#1b5288"/>
<circle cx="344.57" cy="170.74" r="2.5" fill="#1b5288"/>
<circle cx="350.88" cy="184.12" r="2.5" fill="#1b5288"/>
<circle cx="357.20" cy="192.80" r="2.5" fill="#1b5288"/>
<circle cx="369.83" cy="194.39" r="2.5" fill="#1b5288"/>
<circle cx="382.47" cy="201.09" r="2.5" fill="#1b5288"/>
<circle cx="451.95" cy="210.05" r="2.5" fill="#1b5288"/>
<circle cx="490.17" cy="211.18" r="2.5" fill="#1b5288"/>
<path d="M322.46,205.02 L325.62,194.39 L331.93,178.37 L338.25,174.03 L339.30,177.18 L340.36,179.64 L341.62,181.74 L344.57,189.76 L350.88,196.64 L357.20,202.00 L369.83,207.36 L382.47,209.34 L451.95,238.37 L490.17,247.47" fill="none" stroke="#c90f36" stroke-width="1.3" stroke-linejoin="round"/>
<circle cx="322.46" cy="205.02" r="2.5" fill="#c90f36"/>
<circle cx="325.62" cy="194.39" r="2.5" fill="#c90f36"/>
<circle cx="331.93" cy="178.37" r="2.5" fill="#c90f36"/>
<circle cx="338.25" cy="174.03" r="2.5" fill="#c90f36"/>
<circle cx="339.30" cy="177.18" r="2.5" fill="#c90f36"/>
<circle cx="340.36" cy="179.64" r="2.5" fill="#c90f36"/>
<circle cx="341.62" cy="181.74" r="2.5" fill="#c90f36"/>
<circle cx="344.57" cy="189.76" r="2.5" fill="#c90f36"/>
<circle cx="350.88" cy="196.64" r="2.5" fill="#c90f36"/>
<circle cx="357.20" cy="202.00" r="2.5" fill="#c90f36"/>
<circle cx="369.83" cy="207.36" r="2.5" fill="#c90f36"/>
<circle cx="382.47" cy="209.34" r="2.5" fill="#c90f36"/>
<circle cx="451.95" cy="238.37" r="2.5" fill="#c90f36"/>
<circle cx="490.17" cy="247.47" r="2.5" fill="#c90f36"/>
<line x1="440.60" y1="156.9" x2="453.20" y2="156.9" stroke="#c90f36" stroke-width="1.3"/>
<circle cx="446.90" cy="156.9" r="2.3" fill="#c90f36"/>
<text x="455.90" y="159.50" font-family="Liberation Sans, sans-serif" font-size="7.3" textLength="50" lengthAdjust="spacingAndGlyphs" fill="#222" stroke="#222" stroke-width="0.12">Cohorts 1 and 2</text>
<line x1="440.60" y1="167.70000000000002" x2="453.20" y2="167.70000000000002" stroke="#1b5288" stroke-width="1.3"/>
<circle cx="446.90" cy="167.70000000000002" r="2.3" fill="#1b5288"/>
<text x="455.90" y="170.30" font-family="Liberation Sans, sans-serif" font-size="7.3" textLength="50" lengthAdjust="spacingAndGlyphs" fill="#222" stroke="#222" stroke-width="0.12">Cohorts 3 and 4</text>
<line x1="149.9" y1="356" x2="149.9" y2="487.1" stroke="#333" stroke-width="1.3"/>
<line x1="146.8" y1="487.10" x2="150" y2="487.10" stroke="#222" stroke-width="0.9"/>
<text x="144.3" y="488.40" text-anchor="end" font-family="Liberation Sans, sans-serif" font-size="8.8" textLength="15.57" lengthAdjust="spacingAndGlyphs" fill="#222" stroke="#222" stroke-width="0.12">36.0</text>
<line x1="146.8" y1="455.08" x2="150" y2="455.08" stroke="#222" stroke-width="0.9"/>
<text x="144.3" y="456.77" text-anchor="end" font-family="Liberation Sans, sans-serif" font-size="8.8" textLength="15.57" lengthAdjust="spacingAndGlyphs" fill="#222" stroke="#222" stroke-width="0.12">36.5</text>
<line x1="146.8" y1="423.05" x2="150" y2="423.05" stroke="#222" stroke-width="0.9"/>
<text x="144.3" y="425.15" text-anchor="end" font-family="Liberation Sans, sans-serif" font-size="8.8" textLength="15.57" lengthAdjust="spacingAndGlyphs" fill="#222" stroke="#222" stroke-width="0.12">37.0</text>
<line x1="146.8" y1="391.03" x2="150" y2="391.03" stroke="#222" stroke-width="0.9"/>
<text x="144.3" y="393.52" text-anchor="end" font-family="Liberation Sans, sans-serif" font-size="8.8" textLength="15.57" lengthAdjust="spacingAndGlyphs" fill="#222" stroke="#222" stroke-width="0.12">37.5</text>
<line x1="146.8" y1="359.00" x2="150" y2="359.00" stroke="#222" stroke-width="0.9"/>
<text x="144.3" y="361.90" text-anchor="end" font-family="Liberation Sans, sans-serif" font-size="8.8" textLength="15.57" lengthAdjust="spacingAndGlyphs" fill="#222" stroke="#222" stroke-width="0.12">38.0</text>
<line x1="146.8" y1="487.1" x2="246.8" y2="487.1" stroke="#111" stroke-width="1.1"/>
<line x1="259.8" y1="487.1" x2="404.9" y2="487.1" stroke="#111" stroke-width="1.1"/>
<line x1="244.2" y1="490.5" x2="250.7" y2="484.2" stroke="#111" stroke-width="0.9"/>
<line x1="255.2" y1="490.5" x2="261.7" y2="484.2" stroke="#111" stroke-width="0.9"/>
<line x1="156.50" y1="487.1" x2="156.50" y2="490.3" stroke="#222" stroke-width="0.9"/>
<text x="156.50" y="499.0" text-anchor="middle" font-family="Liberation Sans, sans-serif" font-size="8.8" textLength="4.45" lengthAdjust="spacingAndGlyphs" fill="#222" stroke="#222" stroke-width="0.12">0</text>
<line x1="169.47" y1="487.1" x2="169.47" y2="490.3" stroke="#222" stroke-width="0.9"/>
<text x="169.47" y="499.0" text-anchor="middle" font-family="Liberation Sans, sans-serif" font-size="8.8" textLength="4.45" lengthAdjust="spacingAndGlyphs" fill="#222" stroke="#222" stroke-width="0.12">1</text>
<line x1="182.44" y1="487.1" x2="182.44" y2="490.3" stroke="#222" stroke-width="0.9"/>
<text x="182.44" y="499.0" text-anchor="middle" font-family="Liberation Sans, sans-serif" font-size="8.8" textLength="4.45" lengthAdjust="spacingAndGlyphs" fill="#222" stroke="#222" stroke-width="0.12">2</text>
<line x1="195.41" y1="487.1" x2="195.41" y2="490.3" stroke="#222" stroke-width="0.9"/>
<text x="195.41" y="499.0" text-anchor="middle" font-family="Liberation Sans, sans-serif" font-size="8.8" textLength="4.45" lengthAdjust="spacingAndGlyphs" fill="#222" stroke="#222" stroke-width="0.12">3</text>
<line x1="208.38" y1="487.1" x2="208.38" y2="490.3" stroke="#222" stroke-width="0.9"/>
<text x="208.38" y="499.0" text-anchor="middle" font-family="Liberation Sans, sans-serif" font-size="8.8" textLength="4.45" lengthAdjust="spacingAndGlyphs" fill="#222" stroke="#222" stroke-width="0.12">4</text>
<line x1="221.35" y1="487.1" x2="221.35" y2="490.3" stroke="#222" stroke-width="0.9"/>
<text x="221.35" y="499.0" text-anchor="middle" font-family="Liberation Sans, sans-serif" font-size="8.8" textLength="4.45" lengthAdjust="spacingAndGlyphs" fill="#222" stroke="#222" stroke-width="0.12">5</text>
<line x1="234.32" y1="487.1" x2="234.32" y2="490.3" stroke="#222" stroke-width="0.9"/>
<text x="234.32" y="499.0" text-anchor="middle" font-family="Liberation Sans, sans-serif" font-size="8.8" textLength="4.45" lengthAdjust="spacingAndGlyphs" fill="#222" stroke="#222" stroke-width="0.12">6</text>
<line x1="273.10" y1="487.1" x2="273.10" y2="490.3" stroke="#222" stroke-width="0.9"/>
<text x="273.10" y="499.0" text-anchor="middle" font-family="Liberation Sans, sans-serif" font-size="8.8" textLength="8.90" lengthAdjust="spacingAndGlyphs" fill="#222" stroke="#222" stroke-width="0.12">48</text>
<line x1="287.70" y1="487.1" x2="287.70" y2="490.3" stroke="#222" stroke-width="0.9"/>
<text x="287.70" y="499.0" text-anchor="middle" font-family="Liberation Sans, sans-serif" font-size="8.8" textLength="8.90" lengthAdjust="spacingAndGlyphs" fill="#222" stroke="#222" stroke-width="0.12">49</text>
<line x1="302.30" y1="487.1" x2="302.30" y2="490.3" stroke="#222" stroke-width="0.9"/>
<text x="302.30" y="499.0" text-anchor="middle" font-family="Liberation Sans, sans-serif" font-size="8.8" textLength="8.90" lengthAdjust="spacingAndGlyphs" fill="#222" stroke="#222" stroke-width="0.12">50</text>
<line x1="316.90" y1="487.1" x2="316.90" y2="490.3" stroke="#222" stroke-width="0.9"/>
<text x="316.90" y="499.0" text-anchor="middle" font-family="Liberation Sans, sans-serif" font-size="8.8" textLength="8.90" lengthAdjust="spacingAndGlyphs" fill="#222" stroke="#222" stroke-width="0.12">51</text>
<line x1="331.50" y1="487.1" x2="331.50" y2="490.3" stroke="#222" stroke-width="0.9"/>
<text x="331.50" y="499.0" text-anchor="middle" font-family="Liberation Sans, sans-serif" font-size="8.8" textLength="8.90" lengthAdjust="spacingAndGlyphs" fill="#222" stroke="#222" stroke-width="0.12">52</text>
<line x1="346.10" y1="487.1" x2="346.10" y2="490.3" stroke="#222" stroke-width="0.9"/>
<text x="346.10" y="499.0" text-anchor="middle" font-family="Liberation Sans, sans-serif" font-size="8.8" textLength="8.90" lengthAdjust="spacingAndGlyphs" fill="#222" stroke="#222" stroke-width="0.12">53</text>
<line x1="360.70" y1="487.1" x2="360.70" y2="490.3" stroke="#222" stroke-width="0.9"/>
<text x="360.70" y="499.0" text-anchor="middle" font-family="Liberation Sans, sans-serif" font-size="8.8" textLength="8.90" lengthAdjust="spacingAndGlyphs" fill="#222" stroke="#222" stroke-width="0.12">54</text>
<line x1="375.30" y1="487.1" x2="375.30" y2="490.3" stroke="#222" stroke-width="0.9"/>
<text x="375.30" y="499.0" text-anchor="middle" font-family="Liberation Sans, sans-serif" font-size="8.8" textLength="8.90" lengthAdjust="spacingAndGlyphs" fill="#222" stroke="#222" stroke-width="0.12">55</text>
<line x1="389.90" y1="487.1" x2="389.90" y2="490.3" stroke="#222" stroke-width="0.9"/>
<text x="389.90" y="499.0" text-anchor="middle" font-family="Liberation Sans, sans-serif" font-size="8.8" textLength="8.90" lengthAdjust="spacingAndGlyphs" fill="#222" stroke="#222" stroke-width="0.12">56</text>
<text x="277.1" y="511.4" text-anchor="middle" font-family="Liberation Sans, sans-serif" font-size="8.6" textLength="24.2" lengthAdjust="spacingAndGlyphs" fill="#222" stroke="#222" stroke-width="0.12">t (hours)</text>
<text x="119.6" y="418.9" transform="rotate(-90 119.6 418.9)" text-anchor="middle" dominant-baseline="central" font-family="Liberation Sans, sans-serif" font-size="8.6" textLength="60.7" lengthAdjust="spacingAndGlyphs" fill="#222" stroke="#222" stroke-width="0.12">Body temperature (°C)</text>
<line x1="156.50" y1="359" x2="156.50" y2="487.1" stroke="#222" stroke-width="1" stroke-dasharray="3.5,2.63"/>
<line x1="195.41" y1="359" x2="195.41" y2="487.1" stroke="#222" stroke-width="1" stroke-dasharray="3.5,2.63"/>
<line x1="273.10" y1="359" x2="273.10" y2="487.1" stroke="#222" stroke-width="1" stroke-dasharray="3.5,2.63"/>
<line x1="346.10" y1="359" x2="346.10" y2="487.1" stroke="#222" stroke-width="1" stroke-dasharray="3.5,2.63"/>
<path d="M156.50,357 V350.4 H195.41 V357" fill="none" stroke="#c90f36" stroke-width="1.1"/>
<path d="M273.10,357 V350.6 H346.10 V357" fill="none" stroke="#2a6aa3" stroke-width="1.1"/>
<text x="176" y="347.2" text-anchor="middle" font-family="Liberation Sans, sans-serif" font-size="8.6" textLength="27.7" lengthAdjust="spacingAndGlyphs" fill="#c90f36" stroke="#c90f36" stroke-width="0.12">F16IL2</text>
<text x="309.5" y="347.1" text-anchor="middle" font-family="Liberation Sans, sans-serif" font-size="8.6" textLength="44" lengthAdjust="spacingAndGlyphs" fill="#2a6aa3" stroke="#2a6aa3" stroke-width="0.12">BI 836858</text>
<line x1="156.50" y1="452.64" x2="156.50" y2="464.81" stroke="#78ca85" stroke-width="1"/>
<line x1="154.30" y1="452.64" x2="158.70" y2="452.64" stroke="#78ca85" stroke-width="1"/>
<line x1="154.30" y1="464.81" x2="158.70" y2="464.81" stroke="#78ca85" stroke-width="1"/>
<line x1="169.47" y1="451.87" x2="169.47" y2="462.12" stroke="#78ca85" stroke-width="1"/>
<line x1="167.27" y1="451.87" x2="171.67" y2="451.87" stroke="#78ca85" stroke-width="1"/>
<line x1="167.27" y1="462.12" x2="171.67" y2="462.12" stroke="#78ca85" stroke-width="1"/>
<line x1="182.44" y1="447.39" x2="182.44" y2="460.20" stroke="#78ca85" stroke-width="1"/>
<line x1="180.24" y1="447.39" x2="184.64" y2="447.39" stroke="#78ca85" stroke-width="1"/>
<line x1="180.24" y1="460.20" x2="184.64" y2="460.20" stroke="#78ca85" stroke-width="1"/>
<line x1="188.93" y1="441.30" x2="188.93" y2="454.11" stroke="#78ca85" stroke-width="1"/>
<line x1="186.73" y1="441.30" x2="191.12" y2="441.30" stroke="#78ca85" stroke-width="1"/>
<line x1="186.73" y1="454.11" x2="191.12" y2="454.11" stroke="#78ca85" stroke-width="1"/>
<line x1="195.41" y1="430.35" x2="195.41" y2="457.25" stroke="#78ca85" stroke-width="1"/>
<line x1="193.21" y1="430.35" x2="197.61" y2="430.35" stroke="#78ca85" stroke-width="1"/>
<line x1="193.21" y1="457.25" x2="197.61" y2="457.25" stroke="#78ca85" stroke-width="1"/>
<line x1="201.90" y1="405.12" x2="201.90" y2="438.42" stroke="#78ca85" stroke-width="1"/>
<line x1="199.70" y1="405.12" x2="204.09" y2="405.12" stroke="#78ca85" stroke-width="1"/>
<line x1="199.70" y1="438.42" x2="204.09" y2="438.42" stroke="#78ca85" stroke-width="1"/>
<line x1="214.87" y1="398.71" x2="214.87" y2="432.02" stroke="#78ca85" stroke-width="1"/>
<line x1="212.67" y1="398.71" x2="217.06" y2="398.71" stroke="#78ca85" stroke-width="1"/>
<line x1="212.67" y1="432.02" x2="217.06" y2="432.02" stroke="#78ca85" stroke-width="1"/>
<line x1="240.81" y1="377.25" x2="240.81" y2="403.51" stroke="#78ca85" stroke-width="1"/>
<line x1="238.61" y1="377.25" x2="243.00" y2="377.25" stroke="#78ca85" stroke-width="1"/>
<line x1="238.61" y1="403.51" x2="243.00" y2="403.51" stroke="#78ca85" stroke-width="1"/>
<line x1="273.10" y1="426.06" x2="273.10" y2="450.40" stroke="#78ca85" stroke-width="1"/>
<line x1="270.90" y1="426.06" x2="275.30" y2="426.06" stroke="#78ca85" stroke-width="1"/>
<line x1="270.90" y1="450.40" x2="275.30" y2="450.40" stroke="#78ca85" stroke-width="1"/>
<line x1="287.70" y1="430.86" x2="287.70" y2="451.36" stroke="#78ca85" stroke-width="1"/>
<line x1="285.50" y1="430.86" x2="289.90" y2="430.86" stroke="#78ca85" stroke-width="1"/>
<line x1="285.50" y1="451.36" x2="289.90" y2="451.36" stroke="#78ca85" stroke-width="1"/>
<line x1="302.30" y1="443.87" x2="302.30" y2="463.08" stroke="#78ca85" stroke-width="1"/>
<line x1="300.10" y1="443.87" x2="304.50" y2="443.87" stroke="#78ca85" stroke-width="1"/>
<line x1="300.10" y1="463.08" x2="304.50" y2="463.08" stroke="#78ca85" stroke-width="1"/>
<line x1="316.90" y1="413.12" x2="316.90" y2="445.79" stroke="#78ca85" stroke-width="1"/>
<line x1="314.70" y1="413.12" x2="319.10" y2="413.12" stroke="#78ca85" stroke-width="1"/>
<line x1="314.70" y1="445.79" x2="319.10" y2="445.79" stroke="#78ca85" stroke-width="1"/>
<line x1="331.50" y1="405.76" x2="331.50" y2="437.78" stroke="#78ca85" stroke-width="1"/>
<line x1="329.30" y1="405.76" x2="333.70" y2="405.76" stroke="#78ca85" stroke-width="1"/>
<line x1="329.30" y1="437.78" x2="333.70" y2="437.78" stroke="#78ca85" stroke-width="1"/>
<line x1="338.80" y1="392.69" x2="338.80" y2="431.12" stroke="#78ca85" stroke-width="1"/>
<line x1="336.60" y1="392.69" x2="341.00" y2="392.69" stroke="#78ca85" stroke-width="1"/>
<line x1="336.60" y1="431.12" x2="341.00" y2="431.12" stroke="#78ca85" stroke-width="1"/>
<line x1="346.10" y1="398.07" x2="346.10" y2="435.22" stroke="#78ca85" stroke-width="1"/>
<line x1="343.90" y1="398.07" x2="348.30" y2="398.07" stroke="#78ca85" stroke-width="1"/>
<line x1="343.90" y1="435.22" x2="348.30" y2="435.22" stroke="#78ca85" stroke-width="1"/>
<line x1="353.40" y1="415.36" x2="353.40" y2="439.70" stroke="#78ca85" stroke-width="1"/>
<line x1="351.20" y1="415.36" x2="355.60" y2="415.36" stroke="#78ca85" stroke-width="1"/>
<line x1="351.20" y1="439.70" x2="355.60" y2="439.70" stroke="#78ca85" stroke-width="1"/>
<line x1="368.00" y1="422.73" x2="368.00" y2="443.87" stroke="#78ca85" stroke-width="1"/>
<line x1="365.80" y1="422.73" x2="370.20" y2="422.73" stroke="#78ca85" stroke-width="1"/>
<line x1="365.80" y1="443.87" x2="370.20" y2="443.87" stroke="#78ca85" stroke-width="1"/>
<line x1="397.20" y1="430.10" x2="397.20" y2="451.87" stroke="#78ca85" stroke-width="1"/>
<line x1="395.00" y1="430.10" x2="399.40" y2="430.10" stroke="#78ca85" stroke-width="1"/>
<line x1="395.00" y1="451.87" x2="399.40" y2="451.87" stroke="#78ca85" stroke-width="1"/>
<path d="M156.50,458.73 L169.47,457.00 L182.44,453.79 L188.93,447.71 L195.41,443.80 L201.90,421.77 L214.87,415.36 L240.81,390.38 L248.80,401.80" fill="none" stroke="#2eae44" stroke-width="1.5" stroke-linejoin="round"/>
<path d="M256.90,414.60 L273.10,438.23 L287.70,441.11 L302.30,453.47 L316.90,429.46 L331.50,421.77 L338.80,411.91 L346.10,416.64 L353.40,427.53 L368.00,433.30 L397.20,440.98" fill="none" stroke="#2eae44" stroke-width="1.5" stroke-linejoin="round"/>
<circle cx="156.50" cy="458.73" r="2.6" fill="#2eae44"/>
<circle cx="169.47" cy="457.00" r="2.6" fill="#2eae44"/>
<circle cx="182.44" cy="453.79" r="2.6" fill="#2eae44"/>
<circle cx="188.93" cy="447.71" r="2.6" fill="#2eae44"/>
<circle cx="195.41" cy="443.80" r="2.6" fill="#2eae44"/>
<circle cx="201.90" cy="421.77" r="2.6" fill="#2eae44"/>
<circle cx="214.87" cy="415.36" r="2.6" fill="#2eae44"/>
<circle cx="240.81" cy="390.38" r="2.6" fill="#2eae44"/>
<circle cx="273.10" cy="438.23" r="2.6" fill="#2eae44"/>
<circle cx="287.70" cy="441.11" r="2.6" fill="#2eae44"/>
<circle cx="302.30" cy="453.47" r="2.6" fill="#2eae44"/>
<circle cx="316.90" cy="429.46" r="2.6" fill="#2eae44"/>
<circle cx="331.50" cy="421.77" r="2.6" fill="#2eae44"/>
<circle cx="338.80" cy="411.91" r="2.6" fill="#2eae44"/>
<circle cx="346.10" cy="416.64" r="2.6" fill="#2eae44"/>
<circle cx="353.40" cy="427.53" r="2.6" fill="#2eae44"/>
<circle cx="368.00" cy="433.30" r="2.6" fill="#2eae44"/>
<circle cx="397.20" cy="440.98" r="2.6" fill="#2eae44"/>
</svg>
</body></html>
